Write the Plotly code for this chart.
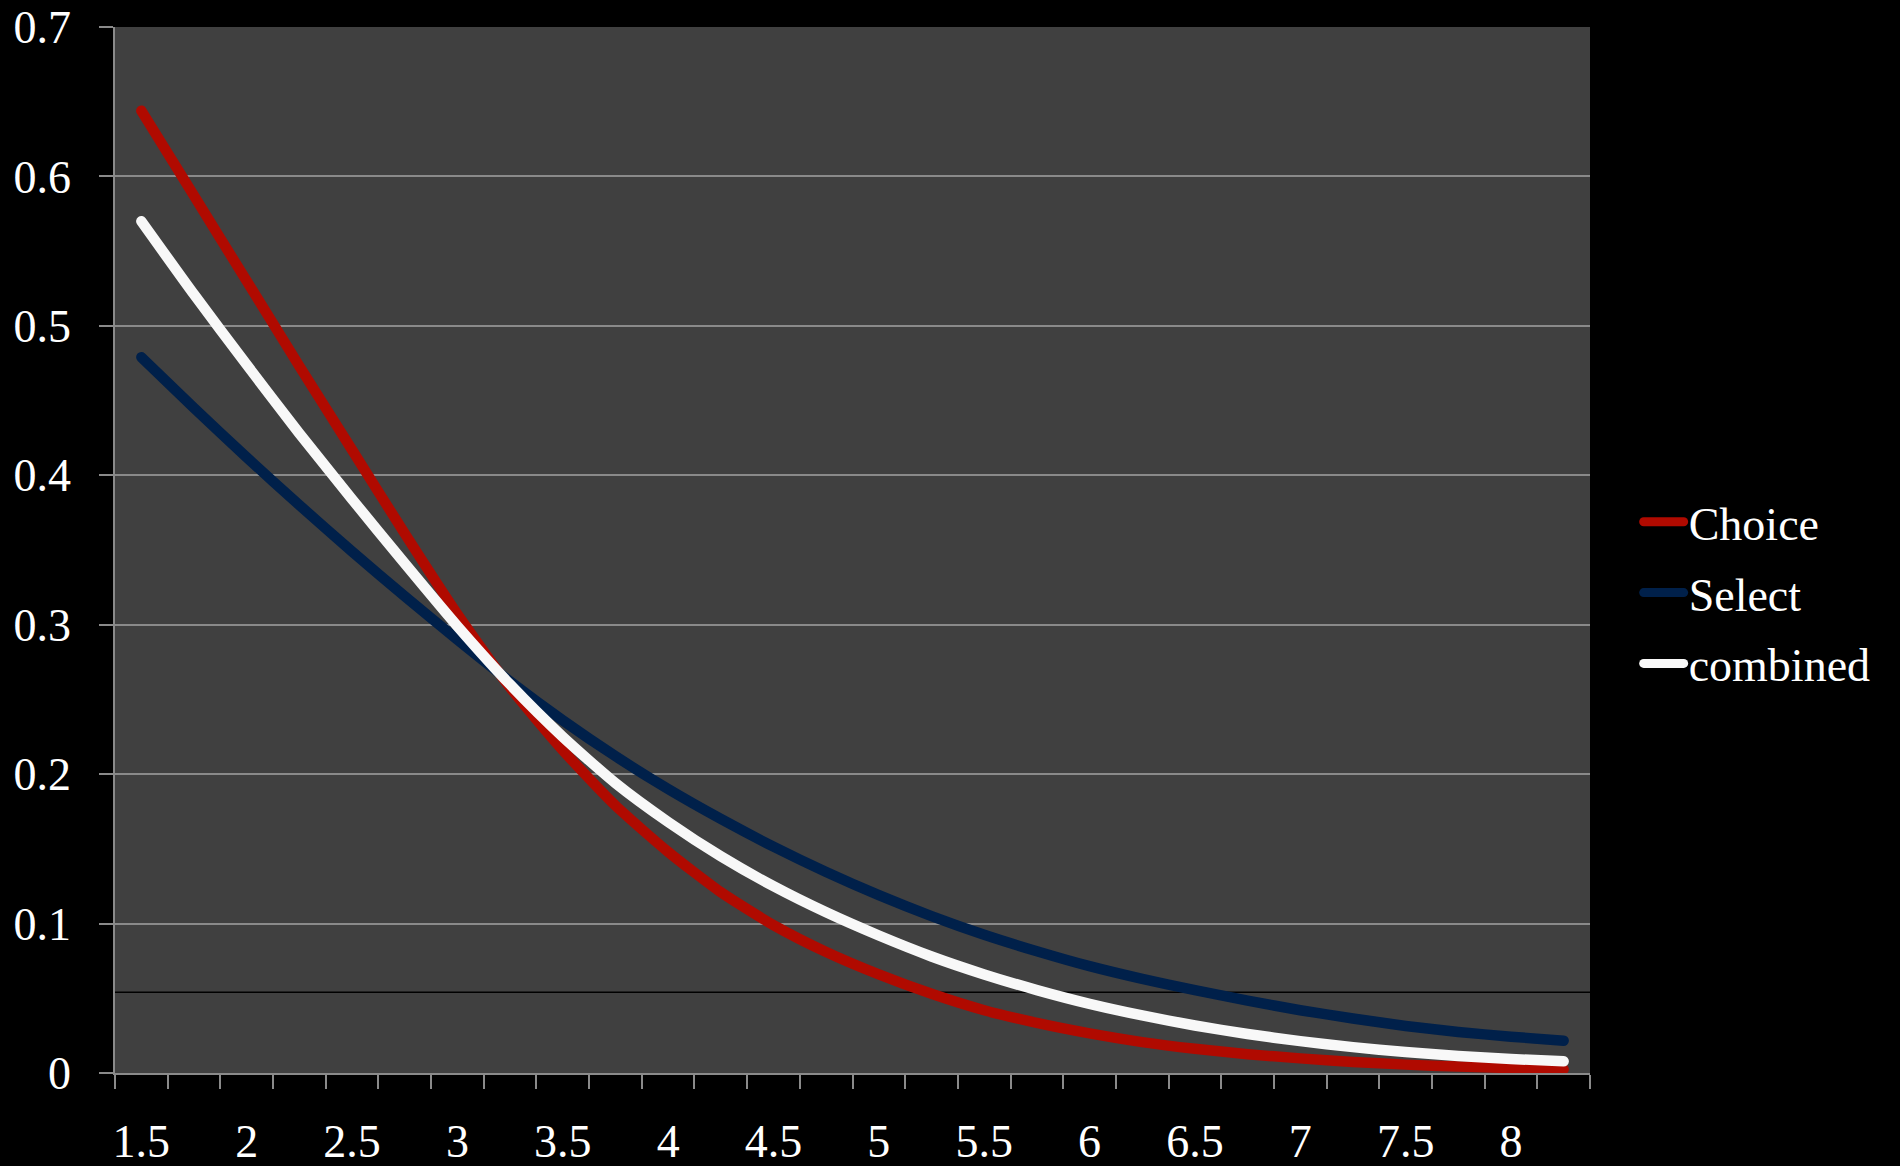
import plotly.graph_objects as go

# Data
x_vals = [1.5, 1.75, 2.0, 2.25, 2.5, 2.75, 3.0, 3.25, 3.5, 3.75,
          4.0, 4.25, 4.5, 4.75, 5.0, 5.25, 5.5, 5.75, 6.0, 6.25,
          6.5, 6.75, 7.0, 7.25, 7.5, 7.75, 8.0, 8.25]
choice = [0.644, 0.587, 0.530, 0.473, 0.417, 0.361, 0.307, 0.258, 0.216, 0.179,
          0.148, 0.121, 0.099, 0.081, 0.066, 0.053, 0.042, 0.0335, 0.0265, 0.0207,
          0.0162, 0.0126, 0.0098, 0.0074, 0.0056, 0.0043, 0.0033, 0.0025]
select = [0.479, 0.445, 0.412, 0.380, 0.349, 0.319, 0.290, 0.262, 0.236, 0.212,
          0.190, 0.170, 0.1515, 0.1345, 0.119, 0.105, 0.0925, 0.0815, 0.0715, 0.063,
          0.0555, 0.0485, 0.042, 0.0365, 0.0315, 0.0275, 0.0243, 0.0216]
combined = [0.570, 0.521, 0.474, 0.428, 0.384, 0.341, 0.299, 0.260, 0.225, 0.194,
            0.168, 0.145, 0.125, 0.1075, 0.092, 0.078, 0.066, 0.0555, 0.0463, 0.0385,
            0.0318, 0.0261, 0.0213, 0.0173, 0.0140, 0.0114, 0.0094, 0.0078]
x_tick_labels = ["1.5", "2", "2.5", "3", "3.5", "4", "4.5", "5", "5.5", "6", "6.5", "7", "7.5", "8"]
y_ticks = [0, 0.1, 0.2, 0.3, 0.4, 0.5, 0.6, 0.7]
ref_line_y = 0.054

FONT = "Liberation Serif, Times New Roman, serif"
GRID = "#8a8a8a"

step = x_vals[1] - x_vals[0]
boundaries = [x_vals[0] - step / 2 + k * step for k in range(len(x_vals) + 1)]
label_vals = [float(t) for t in x_tick_labels]

fig = go.Figure()
series = [("Choice", choice, "#b00a00"), ("Select", select, "#00204a"), ("combined", combined, "#f8f8f8")]
for name, ys, col in series:
    fig.add_trace(go.Scatter(
        x=x_vals, y=ys, name=name, mode="lines", legendgroup=name,
        line=dict(color=col, width=10.5, shape="spline", smoothing=0.6),
    ))

fig.add_shape(type="line", xref="paper", x0=0, x1=1, yref="y", y0=ref_line_y, y1=ref_line_y,
              line=dict(color="#000000", width=1.5), layer="below")

fig.update_layout(
    width=1900, height=1166,
    paper_bgcolor="#000000", plot_bgcolor="#404040",
    margin=dict(l=115, r=310, t=27, b=93, autoexpand=False),
    font=dict(family=FONT, size=46, color="#ffffff"),
    showlegend=True,
    legend=dict(
        x=1.033, xanchor="left", y=0.459, yanchor="middle",
        bgcolor="rgba(0,0,0,0)", font=dict(family=FONT, size=46, color="#ffffff"),
        tracegroupgap=8, itemwidth=40,
    ),
    xaxis=dict(
        range=[boundaries[0], boundaries[-1]],
        tickmode="array", tickvals=label_vals, ticktext=x_tick_labels,
        ticks="", showgrid=False, zeroline=False,
        showline=True, linecolor=GRID, linewidth=2,
        ticklabelstandoff=27,
        tickfont=dict(family=FONT, size=46, color="#ffffff"),
        minor=dict(tickmode="array", tickvals=boundaries, ticks="outside",
                   ticklen=14, tickwidth=1.5, tickcolor=GRID, showgrid=False),
    ),
    yaxis=dict(
        range=[0, 0.7], tickmode="array", tickvals=y_ticks,
        ticktext=[("%g" % v) for v in y_ticks],
        ticks="outside", ticklen=14, tickwidth=1.5, tickcolor=GRID,
        showgrid=True, gridcolor=GRID, gridwidth=1.5,
        zeroline=False, showline=True, linecolor=GRID, linewidth=1.5,
        ticklabelstandoff=19,
        tickfont=dict(family=FONT, size=46, color="#ffffff"),
    ),
)

post = (
    "document.body.style.margin='0';document.body.style.background='#000';"
    "document.querySelectorAll('.scatterlayer .js-line').forEach(function(p){p.style.strokeLinecap='round';});"
    "document.querySelectorAll('.legendlines path').forEach(function(p){p.style.strokeLinecap='round';p.style.strokeWidth='9px';});"
)
fig.write_html("out.html", post_script=post, config={"displayModeBar": False})
